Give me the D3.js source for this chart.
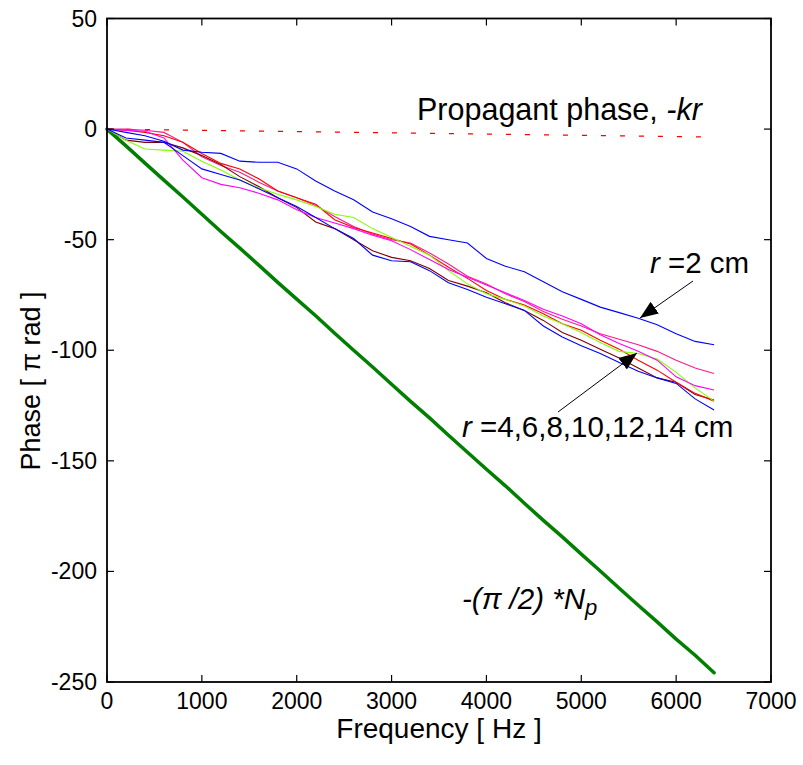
<!DOCTYPE html>
<html>
<head>
<meta charset="utf-8">
<script src="https://cdn.jsdelivr.net/npm/d3@7"></script>
<style>
  body { margin: 0; background: #fff; }
  svg { font-family: "Liberation Sans", Arial, Helvetica, sans-serif; }
</style>
</head>
<body>
<svg id="chart" width="803" height="765"></svg>
<script>
// frequency grid [Hz]
const freq = [0, 200, 400, 600, 800, 1000, 1200, 1400, 1600, 1800, 2000, 2200, 2400, 2600, 2800, 3000, 3200,
    3400, 3600, 3800, 4000, 4200, 4400, 4600, 4800, 5000, 5200, 5400, 5600, 5800, 6000, 6200, 6400];

// measured phase [pi rad], one array per microphone distance
const phaseR2 = [0, -1.5, -3, -5.5, -9.5, -10.5, -11, -14.5, -15, -15, -18, -23.5, -28, -32, -37.5, -40.5, -44,
    -48.5, -50, -51.5, -58.5, -62, -64.5, -69, -73.5, -77, -80.5, -83, -85.5, -88.5, -92.5, -96, -97.5];
const phaseBlue = [0, -4, -5, -6, -12, -18, -20.5, -23, -27, -31, -35, -40, -45, -49.5, -57, -59.5, -60,
    -64, -69.5, -72.5, -76, -79, -82, -89, -94, -98, -101.5, -105.5, -109.5, -112.5, -115, -122, -127];
const phaseMagenta = [0, -0.5, -1, -4, -14, -22, -25, -26.5, -29, -32, -36.5, -40, -42.5, -45, -48, -50.5, -54.5,
    -59, -63.5, -67, -70.5, -74, -77.5, -81.5, -84.5, -88, -93, -97, -100.5, -104.5, -112, -116, -118];
const phaseLime = [0, -5, -9, -9.5, -10, -14.5, -18.5, -23, -26.5, -29.5, -32, -35, -38.5, -40, -45, -49, -53,
    -57, -64, -70, -74.5, -77, -80, -84.5, -88, -92, -96.5, -100.5, -101.5, -104, -110, -117, -123];
const phaseRed = [0, -0.5, -1.5, -3, -6, -11, -15.5, -18, -22.5, -28, -31, -34, -41, -44.5, -47, -49.5, -52,
    -57, -62.5, -67.5, -73, -77, -79.5, -83.5, -88, -91, -95.5, -99.5, -104.5, -109, -114.5, -119.5, -123];
const phaseBrown = [0, -5, -6, -6, -8.5, -12, -16, -21.5, -26, -31, -35.5, -42, -45, -50, -55, -58, -59.5,
    -63, -68.5, -71, -74, -78.5, -82, -86.5, -92, -95.5, -99.5, -103.5, -108, -112.5, -114.5, -120, -122.5];
const phasePink = [0, 0, -0.5, -1.5, -6, -12.5, -16.5, -19.5, -24, -28, -31, -34.5, -39.5, -44, -47.5, -50, -51.5,
    -56, -61, -66.5, -70, -74.5, -78, -82.5, -86, -89, -92.5, -95, -97.5, -100.5, -104.5, -108, -110.5];

// -(pi/2)*Np
const phaseNp = [0, -7.6, -15.4, -23.1, -30.7, -38.5, -46.3, -53.8, -61.5, -69.3, -76.9, -84.4, -92.3, -100, -107.6,
    -115.4, -123.1, -130.6, -138.4, -146.1, -153.8, -161.3, -169.2, -176.9, -184.4, -192.2, -199.8, -207.6,
    -215.3, -222.8, -230.6, -237.9, -245.8];

// propagant phase -kr (end points)
const kFreq = [0, 6400];
const kPhase = [0, -3.6];

const xTicks = [0, 1000, 2000, 3000, 4000, 5000, 6000, 7000];
const yTicks = [50, 0, -50, -100, -150, -200, -250];

const seriesList = [
    { name: "r14", color: "#ff1a8c", values: phasePink },
    { name: "r12", color: "#800000", values: phaseBrown },
    { name: "r10", color: "#ff0000", values: phaseRed },
    { name: "r8", color: "#80ff00", values: phaseLime },
    { name: "r6", color: "#ff00ff", values: phaseMagenta },
    { name: "r4", color: "#0000ff", values: phaseBlue },
    { name: "r2", color: "#0000ff", values: phaseR2 }
];

const svg = d3.select("#chart");
const plotL = 107, plotR = 771, plotT = 18.5, plotB = 682;

const x = d3.scaleLinear().domain([0, 7000]).range([plotL, plotR]);
const y = d3.scaleLinear().domain([-250, 50]).range([plotB, plotT]);

const line = d3.line()
    .x(d => x(d[0]))
    .y(d => y(d[1]));

const g = svg.append("g");

// propagant phase, dashed
g.append("path")
    .datum(kFreq.map((f, i) => [f, kPhase[i]]))
    .attr("d", line)
    .attr("fill", "none")
    .attr("stroke", "#ff0000")
    .attr("stroke-width", 1.2)
    .attr("stroke-dasharray", "5,14");

// Np line
g.append("path")
    .datum(freq.map((f, i) => [f, phaseNp[i]]))
    .attr("d", line)
    .attr("fill", "none")
    .attr("stroke", "#007f00")
    .attr("stroke-width", 3.5)
    .attr("stroke-linejoin", "round")
    .attr("stroke-linecap", "round");

// measured curves
g.selectAll("path.meas")
    .data(seriesList)
    .enter().append("path")
    .attr("class", "meas")
    .attr("d", s => line(freq.map((f, i) => [f, s.values[i]])))
    .attr("fill", "none")
    .attr("stroke", s => s.color)
    .attr("stroke-width", 1.1);

// axes box
svg.append("rect")
    .attr("x", plotL).attr("y", plotT)
    .attr("width", plotR - plotL).attr("height", plotB - plotT)
    .attr("fill", "none")
    .attr("stroke", "#000")
    .attr("stroke-width", 1.8);

const tickLen = 7;
const ax = svg.append("g").attr("stroke", "#000").attr("stroke-width", 1.2);
xTicks.forEach(t => {
    ax.append("line").attr("x1", x(t)).attr("x2", x(t)).attr("y1", plotB).attr("y2", plotB - tickLen);
    ax.append("line").attr("x1", x(t)).attr("x2", x(t)).attr("y1", plotT).attr("y2", plotT + tickLen);
});
yTicks.forEach(t => {
    ax.append("line").attr("x1", plotL).attr("x2", plotL + tickLen).attr("y1", y(t)).attr("y2", y(t));
    ax.append("line").attr("x1", plotR).attr("x2", plotR - tickLen).attr("y1", y(t)).attr("y2", y(t));
});

// tick labels
svg.append("g").selectAll("text")
    .data(xTicks).enter().append("text")
    .attr("x", d => x(d))
    .attr("y", 709)
    .attr("text-anchor", "middle")
    .attr("font-size", 23)
    .text(d => d);

svg.append("g").selectAll("text")
    .data(yTicks).enter().append("text")
    .attr("x", 97)
    .attr("y", d => y(d))
    .attr("dy", "0.35em")
    .attr("text-anchor", "end")
    .attr("font-size", 23)
    .text(d => d);

// axis labels
svg.append("text")
    .attr("x", (plotL + plotR) / 2)
    .attr("y", 738)
    .attr("text-anchor", "middle")
    .attr("font-size", 28)
    .text("Frequency [ Hz ]");

svg.append("text")
    .attr("transform", "translate(40,381) rotate(-90)")
    .attr("text-anchor", "middle")
    .attr("font-size", 27)
    .text("Phase [ \u03c0 rad ]");

// annotations
const ann = svg.append("g").attr("font-size", 29.5);

const t1 = ann.append("text").attr("x", 417).attr("y", 120).attr("font-size", 30.5);
t1.append("tspan").text("Propagant phase, ");
t1.append("tspan").attr("font-style", "italic").text("-kr");

const t2 = ann.append("text").attr("x", 650).attr("y", 273);
t2.append("tspan").attr("font-style", "italic").text("r");
t2.append("tspan").text(" =2 cm");

const t3 = ann.append("text").attr("x", 462).attr("y", 437);
t3.append("tspan").attr("font-style", "italic").text("r");
t3.append("tspan").text(" =4,6,8,10,12,14 cm");

const t4 = ann.append("text").attr("x", 462).attr("y", 609).attr("font-style", "italic");
t4.append("tspan").text("-(\u03c0 /2) *N");
t4.append("tspan").attr("font-size", 22).attr("dy", 6).text("p");

// arrows
svg.append("defs").append("marker")
    .attr("id", "head")
    .attr("viewBox", "0 0 10 10")
    .attr("refX", 10).attr("refY", 5)
    .attr("markerUnits", "userSpaceOnUse")
    .attr("markerWidth", 18).attr("markerHeight", 18)
    .attr("orient", "auto")
    .append("path")
    .attr("d", "M0,1 L10,5 L0,9 Z")
    .attr("fill", "#000");

const arrows = [
    { x1: 693, y1: 281, x2: 640, y2: 318 },
    { x1: 558, y1: 412, x2: 637, y2: 353 }
];
svg.append("g").selectAll("line")
    .data(arrows).enter().append("line")
    .attr("x1", d => d.x1).attr("y1", d => d.y1)
    .attr("x2", d => d.x2).attr("y2", d => d.y2)
    .attr("stroke", "#000")
    .attr("stroke-width", 1)
    .attr("marker-end", "url(#head)");
</script>
</body>
</html>
